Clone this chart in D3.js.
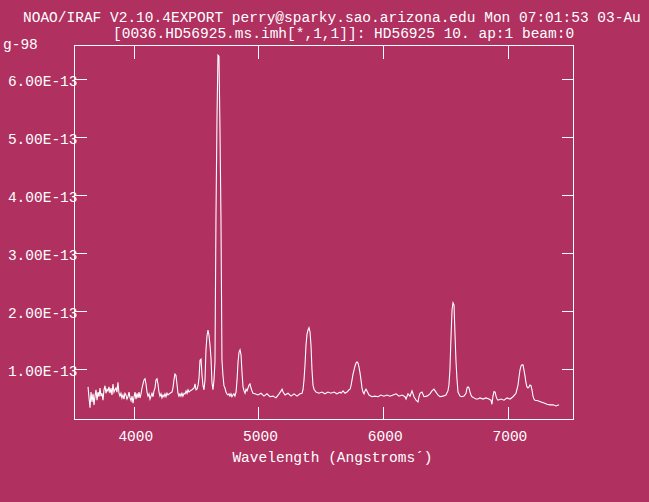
<!DOCTYPE html>
<html><head><meta charset="utf-8">
<script src="https://cdn.jsdelivr.net/npm/d3@7"></script>
<style>html,body{margin:0;padding:0;background:#B03060;overflow:hidden}</style>
</head><body><svg id="c" width="649" height="502"></svg>
<script>
// ---- data ----
const wavelength = [
3637,3645,3653,3661,3669,3677,3685,3693,3701,3709,3717,3725,3733,3741,3749,3757,3765,3773,3781,3789,
3797,3805,3813,3821,3829,3837,3845,3853,3861,3869,3877,3885,3893,3901,3909,3917,3925,3933,3941,3949,
3957,3966,3974,3982,3990,3998,4006,4014,4022,4030,4038,4046,4054,4062,4070,4078,4086,4094,4102,4110,
4118,4126,4134,4142,4150,4158,4166,4174,4182,4190,4198,4206,4214,4222,4230,4238,4246,4254,4262,4270,
4278,4294,4310,4318,4326,4334,4342,4350,4358,4366,4374,4382,4390,4398,4407,4415,4423,4431,4439,4447,
4455,4471,4487,4495,4503,4511,4519,4527,4535,4543,4551,4559,4567,4575,4583,4591,4599,4607,4615,4623,
4631,4639,4647,4655,4663,4671,4679,4687,4695,4703,4711,4719,4727,4735,4743,4751,4759,4767,4775,4783,
4791,4799,4807,4815,4824,4832,4840,4848,4856,4864,4872,4880,4888,4896,4904,4912,4920,4928,4936,4944,
4952,4960,4976,5000,5024,5048,5072,5096,5120,5144,5169,5185,5193,5201,5217,5241,5265,5289,5313,5337,
5353,5361,5369,5377,5385,5393,5401,5409,5417,5425,5433,5441,5449,5465,5489,5513,5537,5561,5585,5609,
5633,5658,5666,5682,5698,5714,5730,5738,5746,5754,5762,5770,5778,5786,5794,5802,5810,5818,5826,5834,
5842,5850,5858,5866,5874,5890,5914,5938,5962,5986,6010,6034,6058,6083,6107,6131,6155,6179,6187,6203,
6219,6235,6251,6267,6283,6291,6299,6315,6331,6355,6379,6395,6411,6427,6443,6459,6483,6507,6523,6531,
6539,6547,6556,6564,6572,6580,6588,6596,6604,6620,6636,6652,6668,6676,6684,6692,6700,6708,6716,6732,
6748,6764,6780,6804,6828,6852,6868,6876,6884,6893,6901,6909,6917,6925,6949,6973,6997,7021,7045,7069,
7085,7093,7101,7109,7117,7125,7133,7141,7149,7157,7165,7173,7181,7189,7197,7205,7213,7221,7245,7269,
7294,7318,7342,7366,7390,7414];
// flux in units of 1e-13
const fluxE13 = [
0.68,0.49,0.32,0.59,0.42,0.56,0.37,0.52,0.63,0.45,0.59,0.51,0.66,0.52,0.57,0.45,0.63,0.70,0.57,0.64,
0.61,0.68,0.57,0.66,0.54,0.73,0.59,0.63,0.66,0.59,0.76,0.57,0.52,0.57,0.49,0.54,0.47,0.57,0.54,0.47,
0.51,0.59,0.49,0.44,0.52,0.40,0.51,0.59,0.47,0.57,0.49,0.59,0.49,0.56,0.66,0.73,0.80,0.82,0.73,0.59,
0.52,0.56,0.47,0.52,0.57,0.51,0.61,0.66,0.80,0.82,0.73,0.59,0.52,0.56,0.49,0.54,0.51,0.56,0.51,0.57,
0.54,0.57,0.59,0.66,0.80,0.90,0.88,0.73,0.57,0.52,0.56,0.52,0.57,0.52,0.57,0.56,0.61,0.57,0.63,0.59,
0.61,0.63,0.66,0.73,0.63,0.64,0.70,0.83,1.14,1.16,0.88,0.70,0.63,0.80,1.32,1.56,1.66,1.57,1.40,1.18,
0.75,0.63,0.80,1.11,3.61,5.30,6.40,6.38,5.14,3.59,1.14,0.88,0.70,0.66,0.59,0.56,0.54,0.56,0.52,0.56,
0.51,0.54,0.56,0.52,0.59,0.80,1.11,1.28,1.32,1.23,0.92,0.68,0.61,0.57,0.64,0.61,0.66,0.71,0.73,0.66,
0.61,0.57,0.56,0.54,0.57,0.52,0.56,0.51,0.52,0.49,0.56,0.61,0.64,0.59,0.54,0.57,0.52,0.56,0.52,0.56,
0.57,0.63,0.80,1.06,1.40,1.59,1.66,1.70,1.63,1.40,0.97,0.71,0.64,0.59,0.57,0.59,0.56,0.59,0.57,0.59,
0.56,0.59,0.57,0.61,0.57,0.59,0.63,0.64,0.70,0.80,0.90,0.97,1.04,1.09,1.11,1.09,1.02,0.92,0.80,0.66,
0.59,0.56,0.61,0.64,0.61,0.54,0.51,0.52,0.51,0.54,0.52,0.54,0.52,0.54,0.56,0.52,0.54,0.51,0.47,0.56,
0.52,0.61,0.51,0.45,0.42,0.51,0.57,0.59,0.51,0.52,0.56,0.61,0.64,0.59,0.54,0.51,0.52,0.54,0.61,0.71,
0.97,1.49,2.01,2.13,2.09,1.57,1.11,0.80,0.59,0.52,0.51,0.52,0.57,0.66,0.68,0.66,0.59,0.54,0.51,0.49,
0.47,0.47,0.49,0.47,0.49,0.47,0.45,0.38,0.52,0.60,0.59,0.52,0.47,0.45,0.47,0.45,0.49,0.47,0.51,0.57,
0.71,0.85,0.97,1.04,1.06,1.06,0.97,0.87,0.75,0.68,0.66,0.68,0.71,0.70,0.63,0.52,0.47,0.45,0.44,0.42,
0.40,0.38,0.37,0.37,0.35,0.37];
const FLUX_UNIT = 1e-13;
const xTickValues = [4000, 5000, 6000, 7000];
const yTickValues = [1e-13, 2e-13, 3e-13, 4e-13, 5e-13, 6e-13];
const yTickLabels = ["1.00E-13","2.00E-13","3.00E-13","4.00E-13","5.00E-13","6.00E-13"];
const titleLine1 = "NOAO/IRAF V2.10.4EXPORT perry@sparky.sao.arizona.edu Mon 07:01:53 03-Au";
const titleWrap = "g-98";
const titleLine2 = "[0036.HD56925.ms.imh[*,1,1]]: HD56925 10. ap:1 beam:0";
const xLabel = "Wavelength (Angstroms\u00B4)";

// ---- drawing ----
const W = 649, H = 502;
const m = {l: 74, r: 573, t: 45, b: 419};
const FONT = "'Liberation Mono', 'DejaVu Sans Mono', monospace";
const FS = 14.5;
const svg = d3.select("#c");
svg.append("rect").attr("width", W).attr("height", H).attr("fill", "#B03060");

const x = d3.scaleLinear().domain([3524.5, 7526]).range([m.l, m.r]);
const y = d3.scaleLinear().domain([0.126e-13, 6.574e-13]).range([m.b, m.t]);

const data = wavelength.map((w, i) => ({w, f: fluxE13[i] * FLUX_UNIT}));

// frame
svg.append("rect").attr("x", m.l + 0.5).attr("y", m.t + 0.5)
  .attr("width", m.r - m.l).attr("height", m.b - m.t)
  .attr("fill", "none").attr("stroke", "#fff").attr("stroke-width", 1)
  .attr("shape-rendering", "crispEdges");

function styleAxis(g) {
  g.select(".domain").remove();
  g.selectAll(".tick line").attr("stroke", "#fff").attr("shape-rendering", "crispEdges");
}
// bottom axis (ticks inward)
const gb = svg.append("g").attr("transform", `translate(0.5,${m.b + 0.5})`)
  .call(d3.axisBottom(x).tickValues(xTickValues).tickSize(-13).tickFormat(d3.format("d")));
styleAxis(gb);
gb.selectAll(".tick text").attr("y", 21).attr("dy", 0).attr("dx", 1.5)
  .attr("fill", "#fff").attr("font-family", FONT).attr("font-size", FS);
// top axis
const gt = svg.append("g").attr("transform", `translate(0.5,${m.t + 0.5})`)
  .call(d3.axisTop(x).tickValues(xTickValues).tickSize(-13).tickFormat(""));
styleAxis(gt);
// left axis
const gl = svg.append("g").attr("transform", `translate(${m.l + 0.5},0.5)`)
  .call(d3.axisLeft(y).tickValues(yTickValues).tickSize(-12)
    .tickFormat((d, i) => yTickLabels[i]));
styleAxis(gl);
gl.selectAll(".tick text").attr("x", 3).attr("dy", 6.5).attr("text-anchor", "end")
  .attr("fill", "#fff").attr("font-family", FONT).attr("font-size", FS);
// right axis
const gr = svg.append("g").attr("transform", `translate(${m.r + 0.5},0.5)`)
  .call(d3.axisRight(y).tickValues(yTickValues).tickSize(-12).tickFormat(""));
styleAxis(gr);

// spectrum
const line = d3.line().x(d => x(d.w)).y(d => y(d.f));
svg.append("path").datum(data).attr("d", line)
  .attr("fill", "none").attr("stroke", "#fff").attr("stroke-width", 1.1)
  .attr("stroke-linejoin", "miter");

// texts
const txt = (s, tx, ty, anchor, fs) => svg.append("text").text(s).attr("x", tx).attr("y", ty)
  .attr("text-anchor", anchor || "start").attr("fill", "#fff")
  .attr("font-family", FONT).attr("font-size", fs || FS).style("white-space", "pre");
txt(titleLine1, 23, 21.5);
txt(titleLine2, 113, 37.5);
txt(titleWrap, 3, 49);
txt(xLabel, 332.5, 461.5, "middle");
</script></body></html>
